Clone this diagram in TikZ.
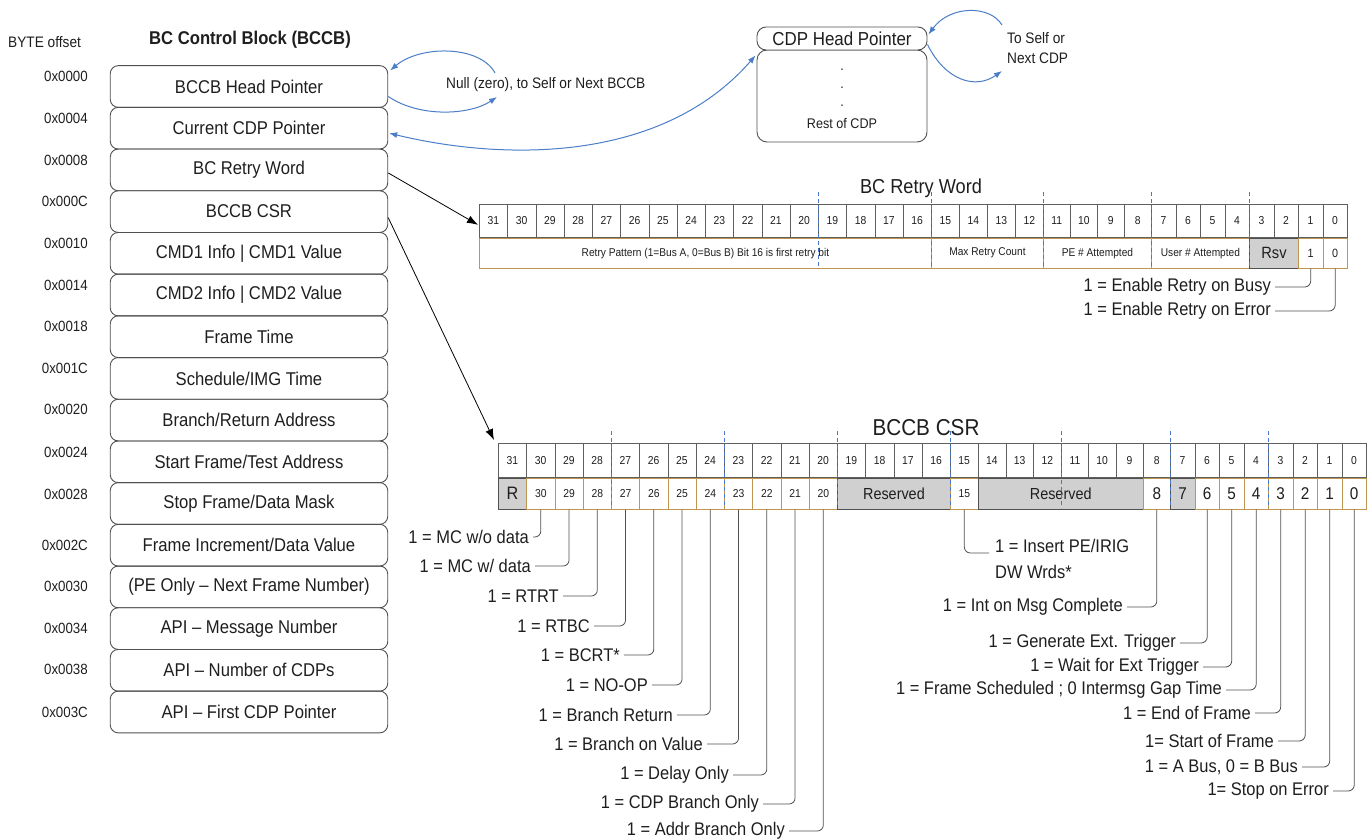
\documentclass[tikz,border=0pt]{standalone}
\usepackage{fontspec}
\setmainfont{Liberation Sans}[FakeStretch=0.9]
\usetikzlibrary{arrows.meta,calc}
\definecolor{ink}{RGB}{30,30,30}
\definecolor{boxline}{RGB}{80,80,80}
\definecolor{cellline}{RGB}{95,95,95}
\definecolor{fieldline}{RGB}{190,150,80}
\definecolor{resfill}{RGB}{208,208,208}
\definecolor{arcblue}{RGB}{74,126,199}
\definecolor{dashblue}{RGB}{70,120,205}
\definecolor{leadgray}{RGB}{80,80,80}
\newcommand\myfs[1]{\fontsize{#1}{#1}\selectfont}
\begin{document}
\begin{tikzpicture}[x=1pt,y=-1pt,
  reg/.style={draw=boxline, line width=0.9pt, rounded corners=8pt, minimum width=277.5pt, minimum height=41.7pt, inner sep=0pt, font=\myfs{18.5}, text=ink},
  offs/.style={anchor=east, inner sep=0pt, font=\myfs{14.8}, text=ink},
  bitcell/.style={draw=cellline, line width=0.7pt, anchor=north west, minimum height=33pt, inner sep=0pt, font=\myfs{11.5}, text=ink},
  fld/.style={draw=fieldline, line width=0.9pt, anchor=north west, inner sep=0pt, text=ink, font=\myfs{11.3}},
  resv/.style={fld, draw=boxline, fill=resfill},
  lbl/.style={anchor=east, inner sep=4pt, font=\myfs{18.3}, text=ink},
  lead/.style={draw=leadgray, line width=0.8pt, rounded corners=6pt},
  blarc/.style={draw=arcblue, line width=1pt, -{Latex[length=8pt,width=6pt]}},
  blk/.style={draw=black, line width=0.8pt, -{Latex[length=11pt,width=8pt]}},
  bdash/.style={draw=dashblue, line width=0.8pt, dash pattern=on 4pt off 3pt},
  cdpbox/.style={draw=boxline, line width=0.9pt, minimum width=170pt, inner sep=0pt, text=ink}
]
\useasboundingbox (0,0) rectangle (1371,840);

% ---------- titles ----------
\node[anchor=west, inner sep=0pt, font=\myfs{15.2}, text=ink] (byte) at (8,42) {BYTE offset};
\node[inner sep=0pt, font=\bfseries\myfs{18.5}, text=ink] (bccbtitle) at (250,40) {BC Control Block (BCCB)};

% ---------- BCCB words ----------
\foreach \t [count=\i from 0] in {BCCB Head Pointer, Current CDP Pointer, BC Retry Word, BCCB CSR,
  CMD1 Info | CMD1 Value, CMD2 Info | CMD2 Value, Frame Time, Schedule/IMG Time,
  Branch/Return Address, Start Frame/Test Address, Stop Frame/Data Mask,
  Frame Increment/Data Value, (PE Only – Next Frame Number), API – Message Number,
  API – Number of CDPs, API – First CDP Pointer}
  {\node[reg] (b\i) at (249,{86.5+41.7*\i}) {\t};}

\foreach \t/\yy [count=\i from 0] in {0x0000/76, 0x0004/118, 0x0008/160, 0x000C/201,
  0x0010/243, 0x0014/285, 0x0018/326, 0x001C/368, 0x0020/409, 0x0024/452, 0x0028/494,
  0x002C/545, 0x0030/586, 0x0034/628, 0x0038/669, 0x003C/712}
  {\node[offs] (o\i) at (88,\yy) {\t};}

% ---------- CDP ----------
\node[cdpbox, rounded corners=10pt, minimum height=92pt] (cdpr) at (842,96) {};
\node[cdpbox, rounded corners=9pt, minimum height=23pt, fill=white, font=\myfs{18.8}] (cdph) at (842,38.5) {CDP Head Pointer};
\node[anchor=north, inner sep=0pt, align=center, font=\fontsize{14}{18}\selectfont, text=ink] (cdptxt) at (842,68.5) {.\\.\\.\\[4pt]Rest of CDP};
\node[anchor=west, inner sep=0pt, align=left, font=\fontsize{15.2}{20}\selectfont, text=ink] (tself) at (1007,48) {To Self or\\Next CDP};
\node[anchor=west, inner sep=0pt, font=\myfs{15.2}, text=ink] (nulltxt) at (446,85) {Null (zero), to Self or Next BCCB};

\coordinate (nullA) at (495,73);
\coordinate (nullB) at (497,97);
\coordinate (cdpA) at (1002,25);
\coordinate (cdpB) at (1002,71);
\draw[blarc] (nullA) .. controls (480,45) and (420,45) .. ($(b0.east)+(2,-16)$);
\draw[blarc] ($(b0.east)+(0,10)$) .. controls (420,118) and (470,115) .. (nullB);
\draw[blarc, {Latex[length=8pt,width=6pt]}-{Latex[length=8pt,width=6pt]}] ($(b1.east)+(1,5)$) .. controls (500,160) and (660,165) .. ($(cdph.south west)+(-1,5)$);
\draw[blarc] (cdpA) .. controls (990,5) and (950,5) .. ($(cdph.east)+(1,-4)$);
\draw[blarc] ($(cdph.east)+(0,6)$) .. controls (945,80) and (975,90) .. (cdpB);

% ---------- BC Retry Word ----------
\node[inner sep=0pt, font=\myfs{20.2}, text=ink] (rwtitle) at (921,188) {BC Retry Word};
\foreach \k in {0,...,15}{\pgfmathtruncatemacro\b{31-\k}\node[bitcell, minimum width=28.25pt] (r\b) at ({479+28.25*\k},204) {\b};}
\foreach \k in {0,...,3}{\pgfmathtruncatemacro\b{15-\k}\node[bitcell, minimum width=28pt] (r\b) at ({931+28*\k},204) {\b};}
\foreach \k in {0,...,3}{\pgfmathtruncatemacro\b{11-\k}\node[bitcell, minimum width=27pt] (r\b) at ({1043+27*\k},204) {\b};}
\foreach \k in {0,...,7}{\pgfmathtruncatemacro\b{7-\k}\node[bitcell, minimum width=24.5pt] (r\b) at ({1151+24.5*\k},204) {\b};}

\node[fld, minimum width=452pt, minimum height=30pt] (rp) at (r31.south west) {Retry Pattern (1=Bus A, 0=Bus B) Bit 16 is first retry bit};
\node[fld, minimum width=112pt, minimum height=30pt] (mrc) at (r15.south west) {Max Retry Count};
\node[fld, minimum width=108pt, minimum height=30pt] (pea) at (r11.south west) {PE \# Attempted};
\node[fld, minimum width=98pt, minimum height=30pt] (uea) at (r7.south west) {User \# Attempted};
\node[resv, minimum width=49pt, minimum height=30pt, font=\myfs{16.3}] (rsv) at (r3.south west) {Rsv};
\node[fld, minimum width=24.5pt, minimum height=30pt, font=\myfs{12}] (rf1) at (r1.south west) {1};
\node[fld, minimum width=24.5pt, minimum height=30pt, font=\myfs{12}] (rf0) at (r0.south west) {0};

\foreach \b in {19,15,11,7,3}
  {\draw[bdash] ($(r\b.north west)+(0,-12)$) -- ($(r\b.north west)+(0,64)$);}

\node[lbl] (rl1) at (1275,287) {1 = Enable Retry on Busy};
\node[lbl] (rl0) at (1275,311) {1 = Enable Retry on Error};
\draw[lead] (rl1.east) -| (rf1.south);
\draw[lead] (rl0.east) -| (rf0.south);

% ---------- BCCB CSR ----------
\node[inner sep=0pt, font=\myfs{23}, text=ink] (csrtitle) at (926,428) {BCCB CSR};
\foreach \k in {0,...,15}{\pgfmathtruncatemacro\b{31-\k}\node[bitcell, minimum width=28.25pt, minimum height=34pt] (c\b) at ({498+28.25*\k},443) {\b};}
\foreach \k in {0,...,3}{\pgfmathtruncatemacro\b{15-\k}\node[bitcell, minimum width=27.75pt, minimum height=34pt] (c\b) at ({950+27.75*\k},443) {\b};}
\foreach \k in {0,...,3}{\pgfmathtruncatemacro\b{11-\k}\node[bitcell, minimum width=27.25pt, minimum height=34pt] (c\b) at ({1061+27.25*\k},443) {\b};}
\foreach \k in {0,...,7}{\pgfmathtruncatemacro\b{7-\k}\node[bitcell, minimum width=24.5pt, minimum height=34pt] (c\b) at ({1170+24.5*\k},443) {\b};}

\node[resv, minimum width=28.25pt, minimum height=31pt, font=\myfs{18}] (s31) at (c31.south west) {R};
\foreach \b in {30,...,20}
  {\node[fld, minimum width=28.25pt, minimum height=31pt, font=\myfs{11.5}] (s\b) at (c\b.south west) {\b};}
\node[resv, minimum width=113pt, minimum height=31pt, font=\myfs{16}] (sres1) at (c19.south west) {Reserved};
\node[fld, minimum width=27.75pt, minimum height=31pt, font=\myfs{11.5}] (s15) at (c15.south west) {15};
\node[resv, minimum width=165pt, minimum height=31pt, font=\myfs{16}] (sres2) at (c14.south west) {Reserved};
\node[fld, minimum width=27.25pt, minimum height=31pt, font=\myfs{17}] (s8) at (c8.south west) {8};
\node[resv, minimum width=24.5pt, minimum height=31pt, font=\myfs{17}] (s7) at (c7.south west) {7};
\foreach \b in {6,...,0}
  {\node[fld, minimum width=24.5pt, minimum height=31pt, font=\myfs{17}] (s\b) at (c\b.south west) {\b};}

\foreach \b in {27,23,19,15,11,7,3}
  {\draw[bdash] ($(c\b.north west)+(0,-12)$) -- ($(c\b.north west)+(0,65)$);}

% left-hand bit labels
\node[lbl] (l30) at (533,537) {1 = MC w/o data};
\node[lbl] (l29) at (535,566) {1 = MC w/ data};
\node[lbl] (l28) at (563,596) {1 = RTRT};
\node[lbl] (l27) at (594,626) {1 = RTBC};
\node[lbl] (l26) at (624,655) {1 = BCRT*};
\node[lbl] (l25) at (652,685) {1 = NO-OP};
\node[lbl] (l24) at (677,715) {1 = Branch Return};
\node[lbl] (l23) at (707,744) {1 = Branch on Value};
\node[lbl] (l22) at (733,775) {1 = Delay Only};
\node[lbl] (l21) at (763,804) {1 = CDP Branch Only};
\node[lbl] (l20) at (789,831) {1 = Addr Branch Only};
\foreach \b in {30,...,20}
  {\draw[lead] (l\b.east) -| (s\b.south);}

% right-hand bit labels
\node[anchor=north west, inner sep=0pt, align=left, font=\fontsize{18.3}{26}\selectfont, text=ink] (l15) at (995,539) {1 = Insert PE/IRIG\\DW Wrds*};
\draw[lead] (s15.south) |- ($(l15.north west)+(-6,14)$);
\node[lbl] (l8) at (1127,607) {1 = Int on Msg Complete};
\node[lbl] (l6) at (1180,643) {1 = Generate Ext. Trigger};
\node[lbl] (l5) at (1203,667) {1 = Wait for Ext Trigger};
\node[lbl] (l4) at (1226,690) {1 = Frame Scheduled ; 0 Intermsg Gap Time};
\node[lbl] (l3) at (1255,713) {1 = End of Frame};
\node[lbl] (l2) at (1278,741) {1= Start of Frame};
\node[lbl] (l1) at (1302,767) {1 = A Bus, 0 = B Bus};
\node[lbl] (l0) at (1333,791) {1= Stop on Error};
\foreach \b in {8,6,5,4,3,2,1,0}
  {\draw[lead] (l\b.east) -| (s\b.south);}

% ---------- pointers from BCCB words ----------
\draw[blk] ($(b2.east)+(0,3)$) -- ($(r31.west)+(-1,4)$);
\draw[blk] ($(b3.east)+(0,6)$) -- ($(c31.north west)+(-4,-3)$);
\end{tikzpicture}
\end{document}
